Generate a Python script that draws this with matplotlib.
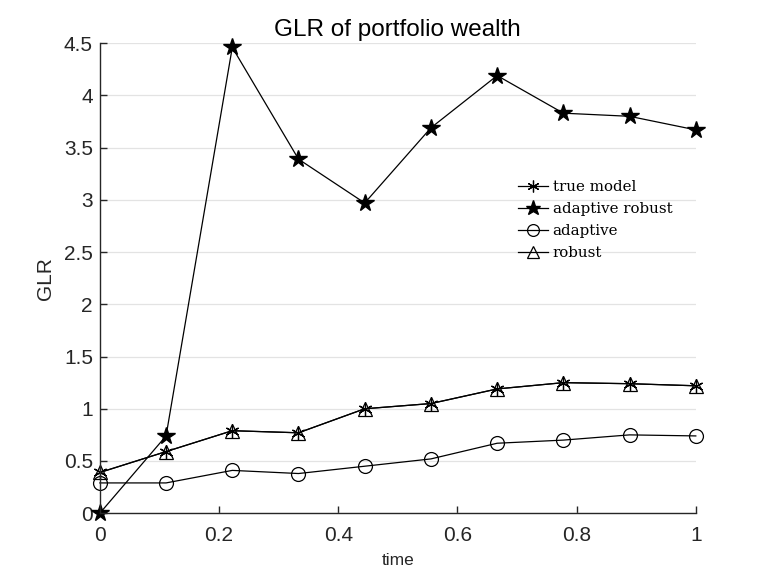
import matplotlib
matplotlib.use("Agg")
import matplotlib.pyplot as plt

time = [0, 1/9, 2/9, 3/9, 4/9, 5/9, 6/9, 7/9, 8/9, 1]
true_model = [0.39, 0.59, 0.79, 0.77, 1.00, 1.05, 1.19, 1.25, 1.24, 1.22]
adaptive_robust = [0.0, 0.74, 4.46, 3.39, 2.97, 3.69, 4.19, 3.83, 3.80, 3.67]
adaptive = [0.29, 0.29, 0.41, 0.38, 0.45, 0.52, 0.67, 0.70, 0.75, 0.74]
robust = [0.39, 0.59, 0.79, 0.77, 1.00, 1.05, 1.19, 1.25, 1.24, 1.22]

xticks = [0, 0.2, 0.4, 0.6, 0.8, 1]
yticks = [0, 0.5, 1, 1.5, 2, 2.5, 3, 3.5, 4, 4.5]
ytick_labels = ["0", "0.5", "1", "1.5", "2", "2.5", "3", "3.5", "4", "4.5"]

plt.rcParams['font.family'] = ['Liberation Sans', 'DejaVu Sans']
fig = plt.figure(figsize=(7.68, 5.76), dpi=100)
ax = fig.add_axes([0.130, 0.109, 0.776, 0.816])

lw = 0.9
ax.plot(time, true_model, color='black', lw=lw, marker=(6, 2, 0), ms=10,
        mew=0.9, label='true model', clip_on=False)
ax.plot(time, adaptive_robust, color='black', lw=lw, marker='*', ms=13,
        mfc='black', label='adaptive robust', clip_on=False)
ax.plot(time, adaptive, color='black', lw=lw, marker='o', ms=10,
        mfc='none', mew=0.9, label='adaptive', clip_on=False)
ax.plot(time, robust, color='black', lw=lw, marker='^', ms=10,
        mfc='none', mew=0.9, label='robust', clip_on=False)

ax.set_xlim(0, 1)
ax.set_ylim(0, 4.5)
ax.set_xticks(xticks)
ax.set_xticklabels([f"{v:g}" for v in xticks])
ax.set_yticks(yticks)
ax.set_yticklabels(ytick_labels)

for s in ['top', 'right']:
    ax.spines[s].set_visible(False)
for s in ['left', 'bottom']:
    ax.spines[s].set_color('#262626')
    ax.spines[s].set_linewidth(1.0)

ax.tick_params(direction='in', length=5, width=1, colors='#262626',
               labelsize=15)
ax.tick_params(axis='x', pad=9)
ax.tick_params(axis='y', pad=5)
ax.yaxis.grid(True, color='#e3e3e3', lw=0.9)
ax.set_axisbelow(True)

ax.set_title('GLR of portfolio wealth', fontsize=17.5, color='black', pad=5)
ax.set_ylabel('GLR', fontsize=15, color='#262626', labelpad=6)
ax.set_xlabel('time', fontsize=12.5, color='#262626', labelpad=6)

leg = ax.legend(loc='upper left', bbox_to_anchor=(0.692, 0.722), frameon=False,
                prop={'family': 'DejaVu Serif', 'size': 10.8},
                handlelength=2.0, handletextpad=0.3, labelspacing=0.54,
                borderaxespad=0, markerscale=0.85)

fig.savefig('out.png', dpi=100)
